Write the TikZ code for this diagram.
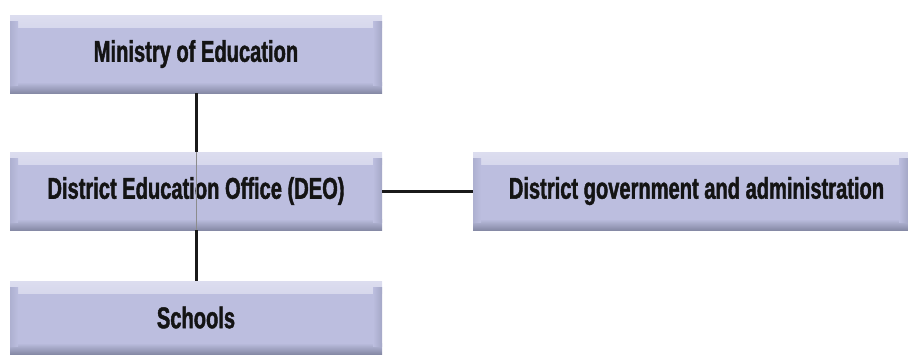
\documentclass[tikz,border=0pt]{standalone}
\usepackage{fontspec}
\setmainfont{Liberation Sans}[FakeStretch=0.67, BoldFeatures={FakeBold=1.4}]
\usetikzlibrary{calc}
\definecolor{boxfill}{HTML}{BCBEDF}
\definecolor{boxlight}{HTML}{DCDDEF}
\definecolor{boxdark}{HTML}{868AA6}
\definecolor{boxside}{HTML}{A4A7C6}
\tikzset{
  orgbox/.style={minimum height=78pt, inner sep=0pt, fill=boxfill,
    font=\bfseries\fontsize{30}{32}\selectfont, text=black!92,
    path picture={
      \shade[top color=boxlight, bottom color=boxfill]
        (path picture bounding box.north west) rectangle ([yshift=-12pt]path picture bounding box.north east);
      \shade[top color=boxfill, bottom color=boxdark]
        ([yshift=11pt]path picture bounding box.south west) rectangle (path picture bounding box.south east);
      \shade[left color=boxfill, right color=boxside]
        ([xshift=-9pt,yshift=-6pt]path picture bounding box.north east) rectangle ([yshift=8pt]path picture bounding box.south east);
      \shade[left color=boxside!60!boxfill, right color=boxfill]
        ([yshift=-6pt]path picture bounding box.north west) rectangle ([xshift=8pt,yshift=8pt]path picture bounding box.south west);
    }},
  link/.style={line width=3pt, black!90}
}
\begin{document}
\begin{tikzpicture}[x=1pt,y=-1pt]
\useasboundingbox (0,0) rectangle (908,354);
\node[orgbox, minimum width=372pt] (min) at (196,54) {Ministry of Education};
\node[orgbox, minimum width=372pt] (deo) at (196,191) {District Education Office (DEO)};
\node[orgbox, minimum width=435pt] (gov) at (690.5,191) {\hspace{12pt}District government and administration};
\node[orgbox, minimum width=372pt, minimum height=73pt] (sch) at (196,317.5) {Schools};
\draw[link] (min.south) -- (deo.north);
\draw[link] (deo.south) -- (sch.north);
\draw[link] (deo.east) -- (gov.west);
\draw[line width=0.6pt, black!45] (deo.north) -- (deo.south);
\end{tikzpicture}
\end{document}
